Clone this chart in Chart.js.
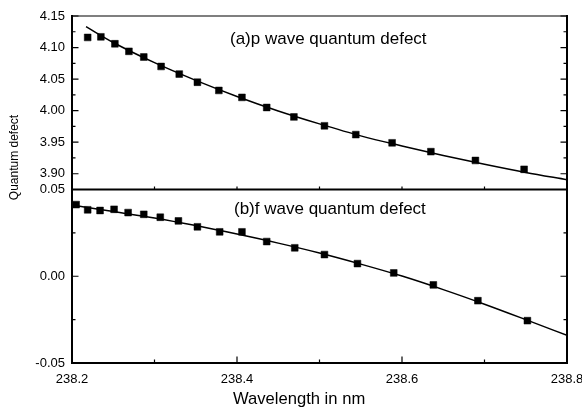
<!DOCTYPE html>
<html>
<head>
<meta charset="utf-8">
<script src="https://cdn.jsdelivr.net/npm/chart.js@4.4.1/dist/chart.umd.min.js"></script>
<style>
  html, body { margin: 0; padding: 0; background: #fff; }
  #wrap { width: 582px; height: 412px; }
</style>
</head>
<body>
<div id="wrap"><canvas id="chart"></canvas></div>
<script>
// (a) p wave: measured points and fitted curve
const wlP = [238.219, 238.235, 238.252, 238.269, 238.287, 238.308, 238.330, 238.352, 238.378,
             238.406, 238.436, 238.469, 238.506, 238.544, 238.588, 238.635, 238.689, 238.748];
const qdP = [4.116, 4.117, 4.106, 4.094, 4.085, 4.070, 4.058, 4.045, 4.032,
             4.021, 4.005, 3.990, 3.976, 3.962, 3.949, 3.935, 3.921, 3.907];
const fitWlP = [238.217, 238.25, 238.30, 238.35, 238.40, 238.45, 238.50, 238.55, 238.60, 238.65, 238.70, 238.75, 238.80];
const fitP   = [4.133, 4.108, 4.076, 4.048, 4.0225, 3.9995, 3.979, 3.960, 3.944, 3.929, 3.915, 3.902, 3.8905];

// (b) f wave: measured points and fitted curve
const wlF = [238.205, 238.219, 238.234, 238.251, 238.268, 238.287, 238.307, 238.329, 238.352, 238.379,
             238.406, 238.436, 238.470, 238.506, 238.546, 238.590, 238.638, 238.692, 238.752];
const qdF = [0.0413, 0.0383, 0.0379, 0.0386, 0.0367, 0.0357, 0.0340, 0.0319, 0.0285, 0.0256,
             0.0256, 0.0200, 0.0164, 0.0125, 0.0073, 0.0019, -0.0050, -0.0141, -0.0256];
const fitWlF = [238.20, 238.25, 238.30, 238.35, 238.40, 238.45, 238.50, 238.55, 238.60, 238.65, 238.70, 238.75, 238.80];
const fitF   = [0.0411, 0.0373, 0.0336, 0.0292, 0.0243, 0.0191, 0.0134, 0.0070, 0.0001, -0.0077, -0.0161, -0.0250, -0.0341];

// ticks (major ones get labels)
const xTicks = [238.2, 238.3, 238.4, 238.5, 238.6, 238.7, 238.8];
const xLabels = ['238.2', '', '238.4', '', '238.6', '', '238.8'];
const yTopTicks = [3.875, 3.90, 3.925, 3.95, 3.975, 4.00, 4.025, 4.05, 4.075, 4.10, 4.125, 4.15];
const yTopLabels = ['', '3.90', '', '3.95', '', '4.00', '', '4.05', '', '4.10', '', '4.15'];
const yBotTicks = [-0.05, -0.025, 0, 0.025, 0.05];
const yBotLabels = ['-0.05', '', '0.00', '', '0.05'];

const FONT = '"Liberation Sans", Arial, Helvetica, sans-serif';

function pts(xs, ys) {
    return xs.map((x, i) => ({x: x, y: ys[i]}));
}

function tickSetter(values) {
    return function (scale) {
        scale.ticks = values.map(v => ({value: v}));
    };
}

const markerStyle = {
    showLine: false,
    pointStyle: 'rect',
    pointRadius: 4.8,
    pointHoverRadius: 4.8,
    backgroundColor: '#000',
    borderColor: '#000',
    borderWidth: 0.5
};
const curveStyle = {
    showLine: true,
    pointRadius: 0,
    borderColor: '#000',
    borderWidth: 1.5,
    cubicInterpolationMode: 'monotone',
    fill: false
};

// frame, inward tick marks, annotations and axis titles
const framePlugin = {
    id: 'frame',
    afterDatasetsDraw(chart) {
        const ctx = chart.ctx;
        const a = chart.chartArea;
        const x = chart.scales.x, yT = chart.scales.yTop, yB = chart.scales.yBot;
        const mid = yT.bottom;
        ctx.save();
        ctx.strokeStyle = '#000';
        ctx.lineCap = 'square';

        ctx.lineWidth = 1.2;
        ctx.beginPath();
        ctx.moveTo(a.left, a.top); ctx.lineTo(a.right, a.top);
        ctx.stroke();

        ctx.lineWidth = 2;
        ctx.beginPath();
        ctx.moveTo(a.left, a.top); ctx.lineTo(a.left, a.bottom);
        ctx.moveTo(a.right, a.top); ctx.lineTo(a.right, a.bottom);
        ctx.moveTo(a.left, a.bottom); ctx.lineTo(a.right, a.bottom);
        ctx.moveTo(a.left, mid); ctx.lineTo(a.right, mid);
        ctx.stroke();

        ctx.lineWidth = 1.2;
        ctx.lineCap = 'butt';
        ctx.beginPath();
        [[yT, yTopLabels], [yB, yBotLabels]].forEach(([s, labels]) => {
            s.ticks.forEach((t, i) => {
                const py = s.getPixelForValue(t.value);
                const len = labels[i] ? 6.5 : 3.5;
                ctx.moveTo(a.left, py); ctx.lineTo(a.left + len, py);
                ctx.moveTo(a.right, py); ctx.lineTo(a.right - len, py);
            });
        });
        x.ticks.forEach((t, i) => {
            const px = x.getPixelForValue(t.value);
            const len = xLabels[i] ? 6.5 : 3.5;
            ctx.moveTo(px, a.bottom); ctx.lineTo(px, a.bottom - len);
            ctx.moveTo(px, mid); ctx.lineTo(px, mid - 3);
        });
        ctx.stroke();

        ctx.fillStyle = '#000';
        ctx.font = '17px ' + FONT;
        ctx.textAlign = 'left';
        ctx.textBaseline = 'middle';
        ctx.fillText('(a)p wave quantum defect', a.left + 158, a.top + 23.5);
        ctx.fillText('(b)f wave quantum defect', a.left + 162, mid + 19.5);

        ctx.font = '16.6px ' + FONT;
        ctx.fillText('Wavelength in nm', a.left + 161, a.bottom + 36.5);

        ctx.font = '12px ' + FONT;
        ctx.textAlign = 'center';
        ctx.translate(15, a.top + 141.5);
        ctx.rotate(-Math.PI / 2);
        ctx.fillText('Quantum defect', 0, 0);
        ctx.restore();
    }
};

const tickFont = {family: FONT, size: 13};

new Chart(document.getElementById('chart'), {
    type: 'scatter',
    data: {
        datasets: [
            Object.assign({data: pts(fitWlP, fitP), yAxisID: 'yTop'}, curveStyle),
            Object.assign({data: pts(fitWlF, fitF), yAxisID: 'yBot'}, curveStyle),
            Object.assign({data: pts(wlP, qdP), yAxisID: 'yTop'}, markerStyle),
            Object.assign({data: pts(wlF, qdF), yAxisID: 'yBot'}, markerStyle)
        ]
    },
    options: {
        responsive: true,
        maintainAspectRatio: false,
        animation: false,
        devicePixelRatio: 1,
        layout: {padding: {left: 0, right: 15, top: 16, bottom: 0}},
        plugins: {legend: {display: false}, tooltip: {enabled: false}},
        scales: {
            x: {
                type: 'linear',
                min: 238.2,
                max: 238.8,
                afterBuildTicks: tickSetter(xTicks),
                ticks: {
                    color: '#000',
                    font: tickFont,
                    padding: 9,
                    autoSkip: false,
                    maxRotation: 0,
                    callback: (v, i) => xLabels[i]
                },
                grid: {display: false, drawTicks: false},
                border: {display: false},
                afterFit(scale) {
                    scale.height = 49;
                    scale.paddingLeft = 0;
                    scale.paddingRight = 0;
                }
            },
            // declared bottom panel first: the stack is laid out so the later one ends up on top
            yBot: {
                type: 'linear',
                position: 'left',
                stack: 'qd',
                stackWeight: 1,
                min: -0.05,
                max: 0.05,
                afterBuildTicks: tickSetter(yBotTicks),
                ticks: {
                    color: '#000',
                    font: tickFont,
                    padding: 7,
                    autoSkip: false,
                    callback: (v, i) => yBotLabels[i]
                },
                grid: {display: false, drawTicks: false},
                border: {display: false},
                afterFit(scale) { scale.width = 72; }
            },
            yTop: {
                type: 'linear',
                position: 'left',
                stack: 'qd',
                stackWeight: 1,
                min: 3.875,
                max: 4.15,
                afterBuildTicks: tickSetter(yTopTicks),
                ticks: {
                    color: '#000',
                    font: tickFont,
                    padding: 7,
                    autoSkip: false,
                    callback: (v, i) => yTopLabels[i]
                },
                grid: {display: false, drawTicks: false},
                border: {display: false},
                afterFit(scale) { scale.width = 72; }
            }
        }
    },
    plugins: [framePlugin]
});
</script>
</body>
</html>
